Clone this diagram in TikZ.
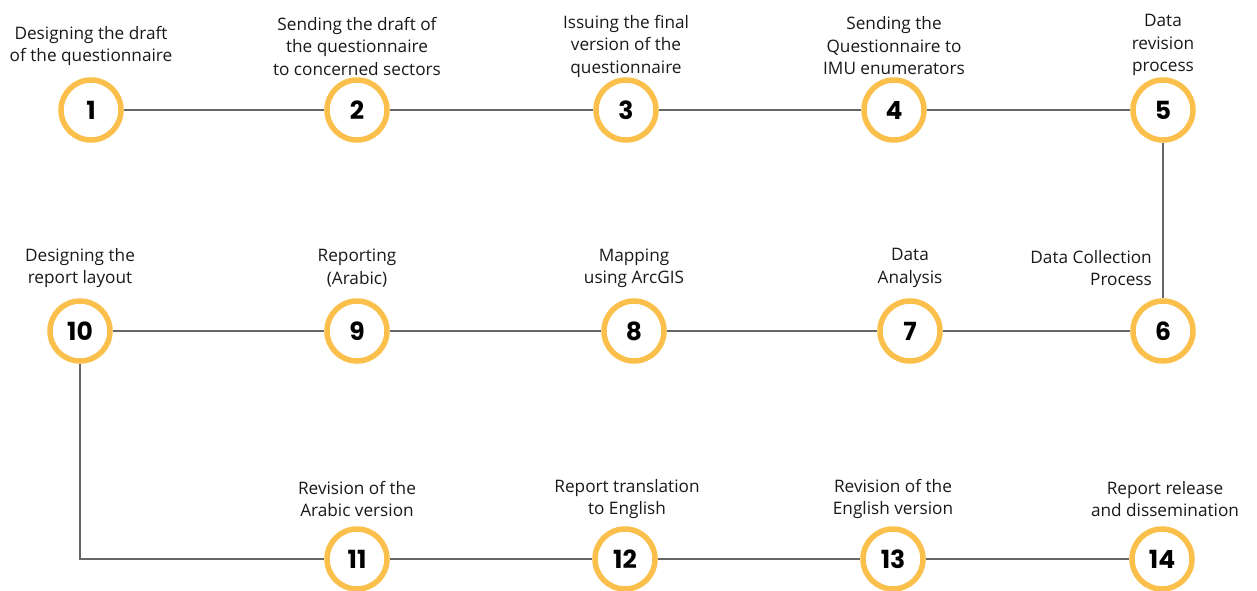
\documentclass[tikz,border=0pt]{standalone}
\usepackage{fontspec}
\setmainfont{Open Sans}
\newfontfamily\numfont{Poppins}
\usetikzlibrary{positioning,calc}
\definecolor{Ring}{HTML}{FBC04C}
\definecolor{Link}{HTML}{666666}

\tikzset{
  stage/.style={circle,draw=Ring,line width=5.5pt,fill=white,minimum size=60pt,
    inner sep=0pt,font=\numfont\bfseries\fontsize{25}{25}\selectfont},
  lab/.style={align=center,inner sep=0pt,font=\fontsize{17.2}{22.5}\selectfont,text=black!90},
  link/.style={Link,line width=2.6pt}
}

\begin{document}
\begin{tikzpicture}[x=1pt,y=-1pt]
  \useasboundingbox (0,0) rectangle (1257,590);
  % stages, row by row
  \foreach \n/\x/\y in {1/91/110,2/357/110,3/626/110,4/894/110,5/1163/110,
      6/1163/331,7/910/331,8/634/331,9/357/331,10/80/331,
      11/357/559,12/625/559,13/893/559,14/1162/559}
    \node[stage] (c\n) at (\x,\y) {\n};
  % links
  \foreach \a/\b in {1/2,2/3,3/4,4/5,5/6,6/7,7/8,8/9,9/10,11/12,12/13,13/14}
    \draw[link] (c\a) -- (c\b);
  \draw[link] (c10) |- (c11);
  % labels
  \node[lab] (l1) at ($(c1)+(0,-64)$) {Designing the draft\\of the questionnaire};
  \node[lab] (l2) at ($(c2)+(0,-64)$) {Sending the draft of\\the questionnaire\\to concerned sectors};
  \node[lab] (l3) at ($(c3)+(0,-64)$) {Issuing the final\\version of the\\questionnaire};
  \node[lab] (l4) at ($(c4)+(0,-64)$) {Sending the\\Questionnaire to\\IMU enumerators};
  \node[lab] (l5) at ($(c5)+(0,-65)$) {Data\\revision\\process};
  \node[lab,align=right,anchor=east] (l6) at ($(c6)+(-11,-63)$) {Data Collection\\Process};
  \node[lab] (l7) at ($(c7)+(0,-63)$) {Data\\Analysis};
  \node[lab] (l8) at ($(c8)+(0,-63)$) {Mapping\\using ArcGIS};
  \node[lab] (l9) at ($(c9)+(0,-63)$) {Reporting\\(Arabic)};
  \node[lab] (l10) at ($(c10)+(0,-63)$) {Designing the\\report layout};
  \node[lab] (l11) at ($(c11)+(0,-60)$) {Revision of the\\Arabic version};
  \node[lab] (l12) at ($(c12)+(2,-60)$) {Report translation\\to English};
  \node[lab] (l13) at ($(c13)+(0,-60)$) {Revision of the\\English version};
  \node[lab] (l14) at ($(c14)+(3,-60)$) {Report release\\and dissemination};
\end{tikzpicture}
\end{document}
